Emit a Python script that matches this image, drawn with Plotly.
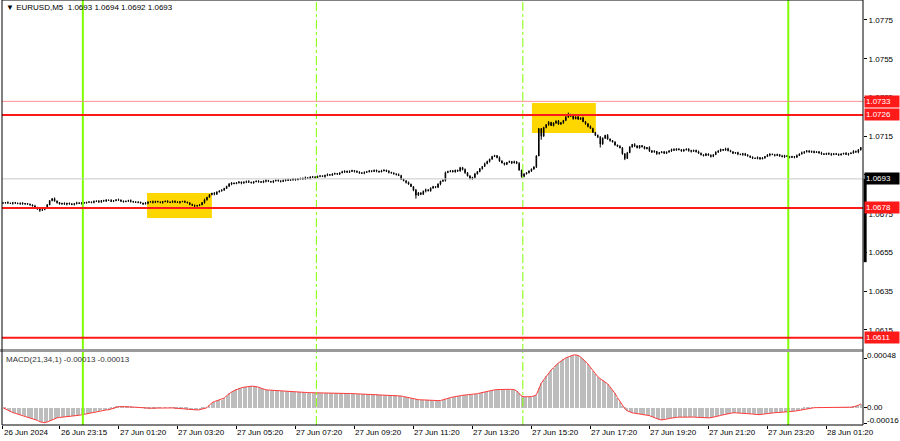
import plotly.graph_objects as go

# ---------------- data ----------------
symbol_header = "▼ EURUSD,M5  1.0693 1.0694 1.0692 1.0693"
macd_header = "MACD(21,34,1) -0.00013 -0.00013"

price_base = 1.06          # closes are given in points (1e-5) above this base
point = 0.00001
first_open_pts = 804

close_pts = [
    806, 808, 805, 803, 807, 805, 802, 804, 800, 803, 799, 796,
    790, 782, 774, 768, 771, 779,
    796, 818, 828, 815, 808,
    800, 803, 799, 804, 801, 797, 802, 806, 803, 807,
    805, 809, 811, 808, 813, 816, 812,
    818, 815, 821, 819, 814, 817, 822, 820, 816, 812, 815, 818, 814, 811, 808, 810,
    805, 800, 804,
    810, 812, 809, 813, 811, 808, 812, 815, 811, 809, 813, 810, 808, 812, 814, 810, 806,
    798, 792, 790, 793, 796,
    808, 822, 835, 848, 856,
    851, 862, 868, 872,
    880, 892, 903, 909, 905,
    910, 914, 908, 912, 917, 913, 909, 915, 919, 916, 912, 918, 921, 917, 914, 919,
    923, 920, 916, 921, 925, 922, 926, 929, 925, 930, 933,
    930, 936, 932, 938, 941, 937, 943, 946, 942, 948, 952, 949, 955, 958, 954, 961,
    966, 970, 964, 968, 973, 969, 965, 962,
    958, 963, 967, 972, 968, 974, 970, 966, 971, 975, 969, 964, 960, 956, 952, 947,
    928, 920, 912, 903, 890, 872, 846,
    858, 850, 866, 874, 868, 882, 890, 886, 903, 918,
    922, 962, 968, 972, 966, 975, 970, 988, 978,
    962, 945, 930, 938,
    955, 968, 982, 994, 1008, 1020, 1032,
    1045, 1050, 1040,
    1022, 1012, 1005, 1015, 1020, 1012, 1018, 1010,
    975, 942,
    955, 962, 970, 980, 992, 1048,
    1190,
    1150, 1195, 1210, 1222, 1205, 1218, 1228, 1212, 1220, 1232,
    1248, 1262, 1255, 1240,
    1250, 1238, 1245, 1225, 1215, 1200,
    1190, 1170, 1155, 1145,
    1110,
    1140, 1155, 1135, 1128,
    1120, 1105, 1098, 1090,
    1060, 1035, 1065,
    1095, 1108, 1100, 1090, 1102, 1096, 1085, 1092,
    1075, 1068, 1072, 1060, 1065, 1070, 1062, 1068,
    1075, 1082, 1078, 1085, 1080, 1074, 1079, 1084, 1076, 1072, 1078, 1070,
    1062, 1055, 1050, 1058, 1052, 1046, 1055,
    1068, 1075, 1082, 1078, 1085, 1076, 1070,
    1062, 1066, 1058, 1055, 1060, 1052, 1048,
    1042, 1038, 1035, 1040, 1033, 1038,
    1045, 1052, 1058, 1055, 1050, 1056, 1048, 1044, 1050, 1046,
    1040, 1045, 1042, 1050, 1058, 1065,
    1070, 1075, 1068, 1072, 1066, 1070, 1064,
    1060, 1056, 1062, 1058, 1055, 1060, 1057, 1053, 1059, 1062, 1056, 1060, 1064,
    1072, 1068, 1080, 1092,
]

wick_unit_pts = 2
wick_up_groups = """
21312 21231 12132 12321 13212 31221 32121 21312 12213 21321
12312 21132 13221 21213 32112 12231 21312 13212 21321 12132
31212 12321 21213 13122 21231 32121 12312 21132 13212 21321
12213 21312 13221 21132 12312 21213 32121 12231 21312 13212
21321 12132 31212 21201 21312 23213 52312 13213 21232 13212
13212 21321 12132 31212 21231 12312 21132 13221 21213 32112
12231 21312 13212 21321 12132 31212 21231 12312 21132 13221
"""
wick_dn_groups = """
12213 21312 12132 42121 21312 13212 21321 12213 31212 21132
12321 21213 13212 31221 21312 12132 21321 13212 21231 12312
21213 12312 31221 21132 12321 21312 13212 21213 12132 31212
21321 12312 21213 21392 21312 12132 31212 21231 12312 21132
12213 21312 13212 21309 12312 21132 13212 21321 12292 21312
21341 12312 21132 13212 21321 12213 31212 21132 12321 21213
13212 31221 21312 12132 21321 13212 21231 12312 21213 12132
"""

macd_e6 = [
    0, -12, -25, -40, -48, -55, -62, -70, -76, -83, -90, -100, -108, -117, -125, -138, -144, -148,
    -140, -130, -118, -108, -100, -96, -94, -92, -90, -87, -84, -80, -77, -74, -70,
    -65, -60, -54, -48, -42, -36, -30, -27, -24, -22, -20, -12, -3, 8,
    10, 11, 11, 10, 10, 9, 7, 5, 3, 0,
    -2, -4, -5, -5, -4, -3, -2, -1, 0, 1, 0, -1, -2,
    -4, -6, -8, -10, -14, -18, -22, -25, -24, -22, -20, -14, -7, 0,
    25, 50, 60, 68, 75, 80, 95, 118, 140, 155, 168, 180, 190, 196, 202, 207, 210, 211, 211, 210, 202, 192, 180,
    176, 174, 172, 171, 170, 168, 167, 166, 164, 162, 160, 158, 156, 153, 150,
    150, 149, 149, 148, 147, 147, 146, 146, 145, 145, 144, 144, 143, 143, 142, 142, 141, 141, 140, 140,
    139, 139, 138, 138, 137, 136, 135, 134, 133, 132, 131, 130, 129, 128, 127, 126, 125, 124, 122, 120,
    115, 110, 104, 98, 92, 86, 82, 79, 78, 76, 75, 73, 72, 71, 70, 70, 71,
    76, 84, 92, 100, 106, 110, 114, 118, 122, 124, 125, 126, 128, 132, 138, 144, 150, 156, 162, 168, 172, 176, 178, 180,
    181, 182, 182, 181, 180, 178, 165, 140, 115, 108, 106, 108, 110, 115, 128,
    190, 240, 275, 310, 340, 370, 395, 420, 440, 458, 475, 490, 500, 510, 518, 520, 514,
    500, 478, 455, 430, 398, 365, 330, 305, 285, 268, 255, 235, 205, 175, 140, 100, 60, 20,
    -10, -30, -42, -50, -54, -58, -62, -65, -68, -70, -78, -88, -98, -108, -116, -120, -118, -112, -106, -100,
    -97, -95, -93, -92, -90, -90, -89, -90, -92, -94, -96, -98, -100, -101, -100, -98, -94, -88, -82, -76,
    -70, -64, -58, -54, -50,
    -50, -51, -52, -53, -54, -55, -58, -62, -66, -70, -68, -64, -60, -56, -52, -50, -49, -48, -47, -46,
    -45, -43, -40, -37, -34, -30, -25, -20, -15, -10, -6, -2,
    0, 1, 1, 0, 0, 1, 1, 0, 0, 1, 2, 2, 2, 3, 4, 5, 8, 14, 24, 38,
]

time_tick_bars = [0, 23, 47, 71, 95, 119, 143, 167, 191, 215, 239, 263, 287, 311, 335]
time_tick_labels = ["26 Jun 2024", "26 Jun 23:15", "27 Jun 01:20", "27 Jun 03:20",
                    "27 Jun 05:20", "27 Jun 07:20", "27 Jun 09:20", "27 Jun 11:20",
                    "27 Jun 13:20", "27 Jun 15:20", "27 Jun 17:20", "27 Jun 19:20",
                    "27 Jun 21:20", "27 Jun 23:20", "28 Jun 01:20"]

price_ticks = [1.0615, 1.0635, 1.0655, 1.0675, 1.0695, 1.0715, 1.0735, 1.0755, 1.0775]
price_tick_labels = ["1.0615", "1.0635", "1.0655", "1.0675", "", "1.0715", "1.0735", "1.0755", "1.0775"]
macd_ticks = [0.00048, 0.0, -0.00016]
macd_tick_labels = ["0.00048", "0.00", "-0.00016"]

level_prices = [1.0733, 1.0726, 1.0678, 1.0611]
bid_price = 1.0693
day_separator_bars = [32.5, 319.5]
session_bars = [127.5, 211.5]
zone_bars = [(58.6, 85.0), (215.2, 241.2)]
zone_prices = [(1.06728, 1.06857), (1.07167, 1.07322)]
edge_bar_range = (1.0650, 1.0693)

# ---------------- build OHLC ----------------
n = len(close_pts)
wu = [int(c) for c in wick_up_groups if c.isdigit()]
wd = [int(c) for c in wick_dn_groups if c.isdigit()]
idx = list(range(n))
opens, highs, lows, closes = [], [], [], []
prev = first_open_pts
for i in range(n):
    o = prev
    c = close_pts[i]
    h = max(o, c) + wu[i] * wick_unit_pts
    l = min(o, c) - wd[i] * wick_unit_pts
    opens.append(price_base + o * point)
    closes.append(price_base + c * point)
    highs.append(price_base + h * point)
    lows.append(price_base + l * point)
    prev = c
macd = [v * 1e-6 for v in macd_e6]

# ---------------- figure ----------------
W, H = 900, 441
ML, MR, MT, MB = 2, 37, 0, 16
PH = H - MT - MB
main_dom = [76 / PH, 1.0]
macd_dom = [0.0, 73 / PH]

fig = go.Figure()
fig.add_trace(go.Candlestick(
    x=idx, open=opens, high=highs, low=lows, close=closes,
    increasing=dict(line=dict(color="black", width=1), fillcolor="black"),
    decreasing=dict(line=dict(color="black", width=1), fillcolor="black"),
    whiskerwidth=0, hoverinfo="skip", xaxis="x", yaxis="y"))
fig.add_trace(go.Bar(x=idx, y=macd, width=0.45, marker=dict(color="#bdbdbd", line=dict(width=0)),
                     xaxis="x", yaxis="y2", hoverinfo="skip"))
fig.add_trace(go.Scatter(x=idx, y=macd, mode="lines", line=dict(color="#ff3b3b", width=1),
                         xaxis="x", yaxis="y2", hoverinfo="skip"))

shapes = []
for (b0, b1), (p0, p1) in zip(zone_bars, zone_prices):
    shapes.append(dict(type="rect", xref="x", yref="y", x0=b0, x1=b1, y0=p0, y1=p1,
                       fillcolor="#ffd700", line=dict(width=0), layer="below"))
for b in day_separator_bars:
    shapes.append(dict(type="line", xref="x", yref="paper", x0=b, x1=b, y0=0, y1=1,
                       line=dict(color="#80ff00", width=2)))
for b in session_bars:
    shapes.append(dict(type="line", xref="x", yref="paper", x0=b, x1=b, y0=0, y1=1,
                       line=dict(color="#80ff00", width=1, dash="dashdot")))
shapes.append(dict(type="line", xref="paper", yref="y", x0=0, x1=1, y0=bid_price, y1=bid_price,
                   line=dict(color="#c8c8c8", width=1)))
level_styles = [("#ff9090", 1), ("#ff1a1a", 2), ("#ff1a1a", 2), ("#ff1a1a", 2)]
for p, (col, w) in zip(level_prices, level_styles):
    shapes.append(dict(type="line", xref="paper", yref="y", x0=0, x1=1, y0=p, y1=p,
                       line=dict(color=col, width=w)))
shapes.append(dict(type="rect", xref="paper", yref="paper", x0=-0.003, x1=1.0,
                   y0=macd_dom[1], y1=main_dom[0], fillcolor="#9a9a9a", line=dict(width=0)))
shapes.append(dict(type="rect", xref="paper", yref="paper", x0=0, x1=1, y0=0, y1=1,
                   line=dict(color="black", width=1)))
shapes.append(dict(type="line", xref="paper", yref="y", x0=1.0025, x1=1.0025,
                   y0=edge_bar_range[0], y1=edge_bar_range[1], line=dict(color="black", width=3)))

FONT = "Liberation Sans, Arial, sans-serif"
ann = []
ann.append(dict(xref="paper", yref="paper", x=0, y=1, xanchor="left", yanchor="top",
                xshift=2, yshift=-1, text=symbol_header, showarrow=False,
                font=dict(family=FONT, size=8, color="black")))
ann.append(dict(xref="paper", yref="paper", x=0, y=macd_dom[1], xanchor="left", yanchor="top",
                xshift=2, yshift=-1, text=macd_header, showarrow=False,
                font=dict(family=FONT, size=8, color="#333333")))
for b, t in zip(time_tick_bars, time_tick_labels):
    ann.append(dict(xref="x", yref="paper", x=b, y=0, xanchor="left", yanchor="top",
                    yshift=-1, xshift=-1, text=t, showarrow=False,
                    font=dict(family=FONT, size=8, color="black")))
for v, t in zip(macd_ticks, macd_tick_labels):
    ann.append(dict(xref="paper", yref="y2", x=1, y=v, xanchor="left", yanchor="middle",
                    xshift=2, yshift=(3 if v != 0 else 0), text=t, showarrow=False,
                    font=dict(family=FONT, size=8, color="black")))
for p in level_prices:
    ann.append(dict(xref="paper", yref="y", x=1, y=p, xanchor="left", yanchor="middle",
                    xshift=1, text=f"{p:.4f}", showarrow=False, bgcolor="#ff1a1a",
                    borderpad=1, width=32, align="left",
                    font=dict(family=FONT, size=8, color="white")))
ann.append(dict(xref="paper", yref="y", x=1, y=bid_price, xanchor="left", yanchor="middle",
                xshift=1, text=f"{bid_price:.4f}", showarrow=False, bgcolor="black",
                borderpad=1, width=32, align="left",
                font=dict(family=FONT, size=8, color="white")))

fig.update_layout(
    width=W, height=H, autosize=False,
    margin=dict(l=ML, r=MR, t=MT, b=MB, pad=0),
    paper_bgcolor="white", plot_bgcolor="white", showlegend=False,
    bargap=0, boxgap=0.65,
    xaxis=dict(range=[-0.4, 349.9], domain=[0, 1], anchor="y2", showgrid=False, zeroline=False,
               rangeslider=dict(visible=False), tickmode="array", tickvals=time_tick_bars,
               showticklabels=False, ticks="outside", ticklen=3, tickcolor="black",
               showline=False),
    yaxis=dict(domain=main_dom, range=[1.060519, 1.078532], side="right", anchor="x",
               showgrid=False, zeroline=False, tickmode="array", tickvals=price_ticks,
               ticktext=price_tick_labels, ticks="outside", ticklen=3,
               tickcolor="black", tickfont=dict(family=FONT, size=8, color="black")),
    yaxis2=dict(domain=macd_dom, range=[-0.000170, 0.000548], side="right", anchor="x",
                showgrid=False, zeroline=False, tickmode="array", tickvals=macd_ticks,
                showticklabels=False, ticks="outside", ticklen=3, tickcolor="black"),
    shapes=shapes, annotations=ann,
)

fig.write_html("out.html", config={"displayModeBar": False},
               post_script="document.body.style.margin='0';document.body.style.overflow='hidden';")
